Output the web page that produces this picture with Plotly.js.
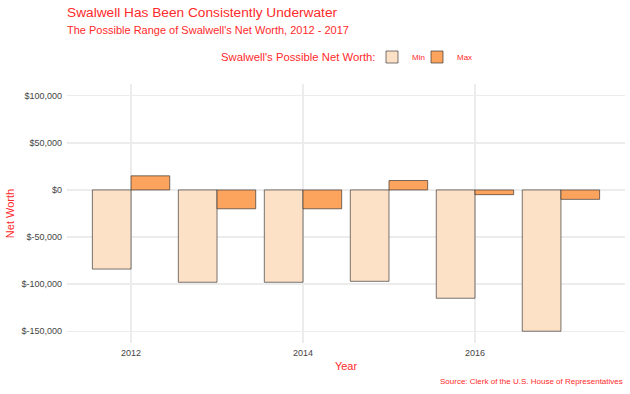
<!DOCTYPE html>
<html>
<head>
<meta charset="utf-8">
<script src="https://cdn.plot.ly/plotly-3.0.1.min.js"></script>
<style>html,body{margin:0;padding:0;background:#fff;}#chart{width:630px;height:394px;}</style>
</head>
<body>
<div id="chart"></div>
<script>
const years = [2012, 2013, 2014, 2015, 2016, 2017];
const minWorth = [-84000, -98000, -98000, -97000, -115000, -150000];
const maxWorth = [15000, -20000, -20000, 10000, -5000, -10000];
const yTickVals = [100000, 50000, 0, -50000, -100000, -150000];
const yTickText = ['$100,000', '$50,000', '$0', '$-50,000', '$-100,000', '$-150,000'];
const xTickVals = [2012, 2014, 2016];
const legendTitle = "Swalwell's Possible Net Worth:";

const RED = '#ff2a2a';
const FONT = 'Liberation Sans, Arial, sans-serif';

const traces = [
  {type: 'bar', name: 'Min', x: years, y: minWorth, legend: 'legend',
   marker: {color: '#fde1c6', line: {color: 'rgba(40,40,40,0.7)', width: 0.9}}},
  {type: 'bar', name: 'Max', x: years, y: maxWorth, legend: 'legend2',
   marker: {color: '#fca35d', line: {color: 'rgba(40,40,40,0.7)', width: 0.9}}}
];

const legendBase = {orientation: 'h', xref: 'container', yref: 'container', xanchor: 'left',
                    y: 1 - 57/394, yanchor: 'middle', font: {size: 8, color: RED},
                    bgcolor: 'rgba(0,0,0,0)'};

const layout = {
  width: 630, height: 394,
  margin: {l: 67, r: 5, t: 84, b: 51},
  paper_bgcolor: '#fff', plot_bgcolor: '#fff',
  font: {family: FONT, color: '#444', size: 9},
  barmode: 'group', bargap: 0.1, bargroupgap: 0,
  xaxis: {range: [2011.255, 2017.745], tickvals: xTickVals, ticktext: xTickVals.map(String),
          showgrid: true, gridcolor: '#ececec', gridwidth: 1.3, zeroline: false,
          ticks: '', ticklabelstandoff: 3, tickfont: {size: 9, color: '#444'},
          title: {text: 'Year', font: {size: 11, color: RED}, standoff: 5}},
  yaxis: {range: [-162500, 112500], tickvals: yTickVals, ticktext: yTickText,
          showgrid: true, gridcolor: '#ececec', gridwidth: 1.3, zeroline: false,
          ticks: '', ticklabelstandoff: 4, tickfont: {size: 9, color: '#444'},
          title: {text: 'Net Worth', font: {size: 11, color: RED}, standoff: 4}},
  showlegend: true,
  legend: Object.assign({}, legendBase, {x: 372/630}),
  legend2: Object.assign({}, legendBase, {x: 417/630}),
  annotations: [
    {text: 'Swalwell Has Been Consistently Underwater', xref: 'paper', yref: 'paper',
     x: 0, xanchor: 'left', xshift: -2, y: 1 + 72/259, yanchor: 'middle', showarrow: false,
     font: {size: 13.7, color: RED}},
    {text: "The Possible Range of Swalwell's Net Worth, 2012 - 2017", xref: 'paper', yref: 'paper',
     x: 0, xanchor: 'left', xshift: -2, y: 1 + 54/259, yanchor: 'middle', showarrow: false,
     font: {size: 11, color: RED}},
    {text: legendTitle, xref: 'paper', yref: 'paper',
     x: (219 - 67)/558, xanchor: 'left', y: 1 + (84 - 57)/259, yanchor: 'middle', showarrow: false,
     font: {size: 11.3, color: RED}},
    {text: 'Source: Clerk of the U.S. House of Representatives', xref: 'paper', yref: 'paper',
     x: 1, xanchor: 'right', y: -38/259, yanchor: 'middle', showarrow: false,
     font: {size: 8, color: RED}}
  ]
};

Plotly.newPlot('chart', traces, layout, {displayModeBar: false, staticPlot: true});
</script>
</body>
</html>
